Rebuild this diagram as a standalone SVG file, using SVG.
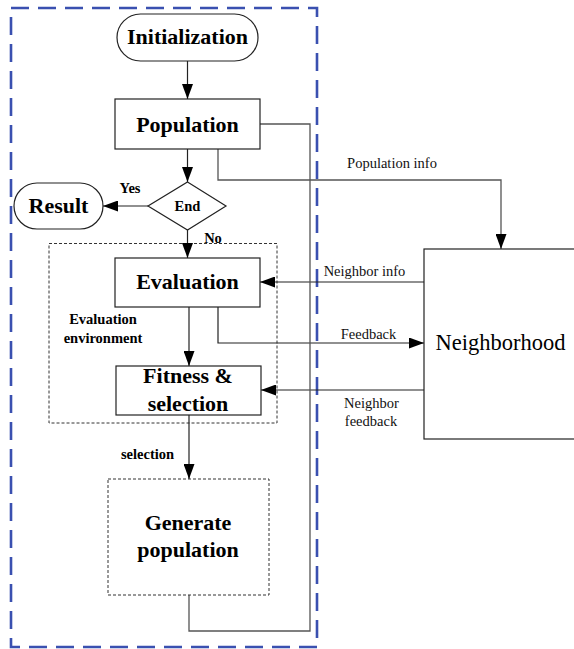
<svg xmlns="http://www.w3.org/2000/svg" width="574" height="649" viewBox="0 0 574 649">
  <style>
    .box { fill: #fff; stroke: #222; stroke-width: 1.2; }
    .dbox { fill: none; stroke: #333; stroke-width: 1; stroke-dasharray: 3 2; }
    .big { font-family: "Liberation Serif", "Times New Roman", serif; font-weight: bold; font-size: 22px; fill: #000; text-anchor: middle; }
    .small { font-family: "Liberation Serif", "Times New Roman", serif; font-weight: bold; font-size: 14.5px; fill: #000; text-anchor: middle; }
    .lbl { font-family: "Liberation Serif", "Times New Roman", serif; font-size: 14.5px; fill: #111; text-anchor: middle; }
    .wire { fill: none; stroke: #222; stroke-width: 1.2; }
    .wire-grey { fill: none; stroke: #555; stroke-width: 1.3; }
    .arrow { marker-end: url(#head); }
  </style>
  <defs>
    <marker id="head" markerUnits="userSpaceOnUse" markerWidth="15" markerHeight="11" refX="15" refY="5.5" orient="auto">
      <path d="M0,0 L15,5.5 L0,11 z" fill="#000"/>
    </marker>
  </defs>

  <!-- outer blue dashed boundary -->
  <path d="M11,8 H317 V647 H11 Z" fill="none" stroke="#3a50b0" stroke-width="2.6" stroke-dasharray="18 9"/>

  <!-- evaluation environment (dashed) -->
  <g id="eval-env">
    <rect class="dbox" x="49" y="243.5" width="228" height="179.5"/>
    <text class="small" x="103" y="324">Evaluation</text>
    <text class="small" x="103" y="343">environment</text>
  </g>

  <!-- connectors -->
  <g id="connectors">
    <path class="wire arrow" d="M187.5,61 V99"/>
    <path class="wire arrow" d="M187.5,149 V182"/>
    <path class="wire arrow" d="M148,206 H103"/>
    <path class="wire arrow" d="M187.5,230 V258"/>
    <path class="wire arrow" d="M189,307 V366"/>
    <path class="wire arrow" d="M189,415 V479"/>
    <path class="wire-grey arrow" d="M218,149 V180 H501 V249"/>
    <path class="wire arrow" d="M424,282 H260"/>
    <path class="wire arrow" d="M218,307 V343 H424"/>
    <path class="wire arrow" d="M424,390 H261"/>
    <path class="wire-grey" d="M260,124 H310 V631 H189 V595"/>
  </g>

  <!-- edge labels -->
  <g id="edge-labels">
    <text class="small" x="130" y="193">Yes</text>
    <text class="small" x="213" y="243">No</text>
    <text class="small" x="147.5" y="459">selection</text>
    <text class="lbl" x="392" y="168">Population info</text>
    <text class="lbl" x="364.5" y="276">Neighbor info</text>
    <text class="lbl" x="368.5" y="339">Feedback</text>
    <text class="lbl" x="371.5" y="408">Neighbor</text>
    <text class="lbl" x="371" y="426">feedback</text>
  </g>

  <g id="initialization">
    <rect class="box" x="117" y="14" width="141" height="47" rx="23.5" ry="23.5"/>
    <text class="big" x="187.5" y="44">Initialization</text>
  </g>

  <g id="population">
    <rect class="box" x="115" y="99" width="145" height="50"/>
    <text class="big" x="187.5" y="132">Population</text>
  </g>

  <g id="end">
    <polygon class="box" points="187.5,182 226,206 187.5,230 148,206"/>
    <text class="small" x="187.5" y="211">End</text>
  </g>

  <g id="result">
    <rect class="box" x="14" y="183" width="89" height="46" rx="23" ry="23"/>
    <text class="big" x="58.5" y="213">Result</text>
  </g>

  <g id="evaluation">
    <rect class="box" x="115" y="258" width="145" height="49"/>
    <text class="big" x="187.5" y="289">Evaluation</text>
  </g>

  <g id="fitness-selection">
    <rect class="box" x="116" y="366" width="145" height="49"/>
    <text class="big" x="188" y="383">Fitness &amp;</text>
    <text class="big" x="188" y="411">selection</text>
  </g>

  <g id="generate-population">
    <rect class="dbox" x="108" y="479" width="161" height="116"/>
    <text class="big" x="188" y="530">Generate</text>
    <text class="big" x="188" y="557">population</text>
  </g>

  <g id="neighborhood">
    <rect class="box" x="424" y="249" width="160" height="190"/>
    <text x="500.5" y="350" font-family="Liberation Serif, Times New Roman, serif" font-size="22.5" text-anchor="middle" fill="#000">Neighborhood</text>
  </g>
</svg>
